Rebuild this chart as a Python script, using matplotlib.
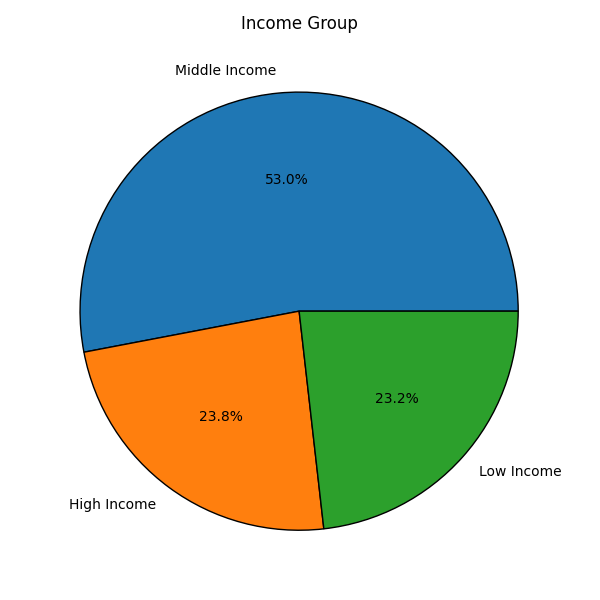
import matplotlib
matplotlib.use("Agg")
import matplotlib.pyplot as plt

groups = ["Middle Income", "High Income", "Low Income"]
shares = [53.0, 23.8, 23.2]

plt.figure(figsize=(6, 6), dpi=100)
plt.pie(shares, labels=groups, autopct="%1.1f%%",
        wedgeprops={"edgecolor": "black"})
plt.title("Income Group")
plt.tight_layout()
plt.savefig("out.png")
